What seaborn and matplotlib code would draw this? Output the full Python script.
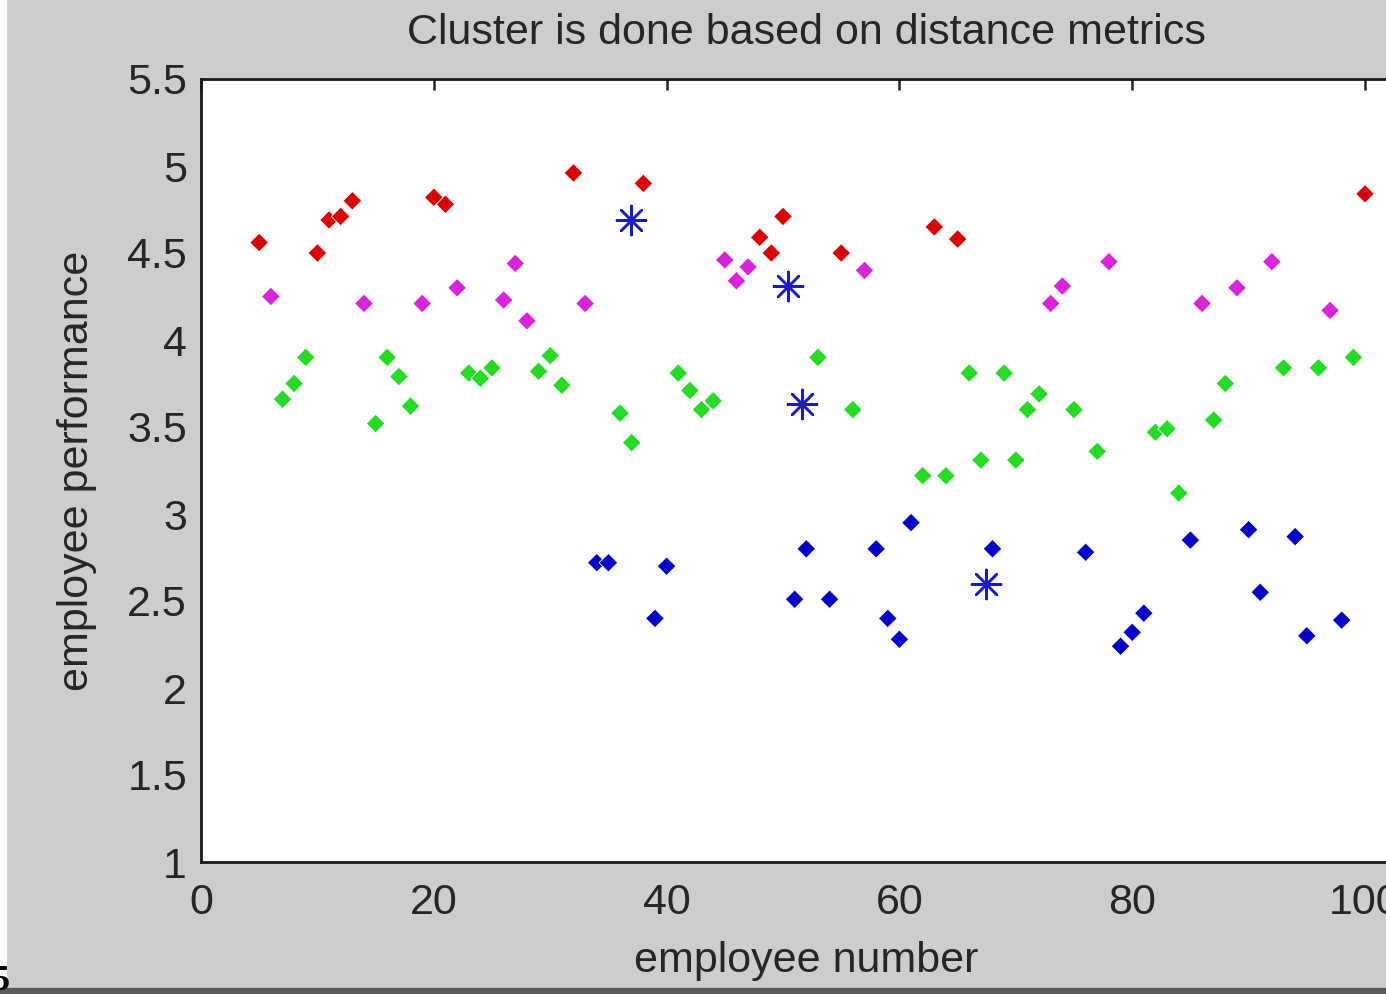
import matplotlib
matplotlib.use("Agg")
import matplotlib.pyplot as plt
import seaborn as sns
import pandas as pd
from matplotlib.patches import Rectangle

# ---- data ----
red_x = [5, 10, 11, 12, 13, 20, 21, 32, 38, 48, 49, 50, 55, 63, 65, 100]
red_y = [4.56, 4.50, 4.69, 4.71, 4.80, 4.82, 4.78, 4.96, 4.90, 4.59, 4.50, 4.71, 4.50, 4.65, 4.58, 4.84]

magenta_x = [6, 14, 19, 22, 26, 27, 28, 33, 45, 46, 47, 57, 73, 74, 78, 86, 89, 92, 97]
magenta_y = [4.25, 4.21, 4.21, 4.30, 4.23, 4.44, 4.11, 4.21, 4.46, 4.34, 4.42, 4.40, 4.21, 4.31, 4.45, 4.21, 4.30, 4.45, 4.17]

green_x = [7, 8, 9, 15, 16, 17, 18, 23, 24, 25, 29, 30, 31, 36, 37, 41, 42, 43, 44, 53, 56, 62, 64, 66,
           67, 69, 70, 71, 72, 75, 77, 82, 83, 84, 87, 88, 93, 96, 99]
green_y = [3.66, 3.75, 3.90, 3.52, 3.90, 3.79, 3.62, 3.81, 3.78, 3.84, 3.82, 3.91, 3.74, 3.58, 3.41, 3.81,
           3.71, 3.60, 3.65, 3.90, 3.60, 3.22, 3.22, 3.81, 3.31, 3.81, 3.31, 3.60, 3.69, 3.60, 3.36, 3.47,
           3.49, 3.12, 3.54, 3.75, 3.84, 3.84, 3.90]

blue_x = [34, 35, 39, 40, 51, 52, 54, 58, 59, 60, 61, 68, 76, 79, 80, 81, 85, 90, 91, 94, 95, 98]
blue_y = [2.72, 2.72, 2.40, 2.70, 2.51, 2.80, 2.51, 2.80, 2.40, 2.28, 2.95, 2.80, 2.78, 2.24, 2.32,
          2.43, 2.85, 2.91, 2.55, 2.87, 2.30, 2.39]

centroid_x = [36.9, 50.4, 51.6, 67.4]
centroid_y = [4.69, 4.31, 3.63, 2.60]

x_ticks = [0, 20, 40, 60, 80, 100]
y_ticks = [1, 1.5, 2, 2.5, 3, 3.5, 4, 4.5, 5, 5.5]
y_tick_labels = ["1", "1.5", "2", "2.5", "3", "3.5", "4", "4.5", "5", "5.5"]

cluster_names = ["c1", "c2", "c3", "c4"]
palette = {"c1": "#dd0000", "c2": "#dd22dd", "c3": "#22dd22", "c4": "#0000cc"}

df = pd.DataFrame({
    "x": red_x + magenta_x + green_x + blue_x,
    "y": red_y + magenta_y + green_y + blue_y,
    "cluster": ["c1"] * len(red_x) + ["c2"] * len(magenta_x) + ["c3"] * len(green_x) + ["c4"] * len(blue_x),
})
cdf = pd.DataFrame({"x": centroid_x, "y": centroid_y})

sns.set_style("white")
plt.rcParams["font.family"] = ["Liberation Sans", "DejaVu Sans"]
txt = "#262626"
FS = 31

fig = plt.figure(figsize=(13.86, 9.94), dpi=100, facecolor="#cdcdcd")
ax = fig.add_axes([201 / 1386, 132 / 994, 104 * 11.64 / 1386, 783 / 994])
ax.set_facecolor("white")

sns.scatterplot(data=df, x="x", y="y", hue="cluster", hue_order=cluster_names, palette=palette,
                marker="D", s=90, linewidth=0.6, ax=ax, legend=False)
sns.scatterplot(data=cdf, x="x", y="y", marker=(8, 2, 0), s=440, color="#1a1acc",
                linewidth=1.8, ax=ax, legend=False)

ax.set_xlim(0, 104)
ax.set_ylim(1, 5.5)
ax.set_xticks(x_ticks)
ax.set_yticks(y_ticks)
ax.set_yticklabels(y_tick_labels)
ax.tick_params(direction="in", length=8, width=1.8, top=True, right=True,
               labelsize=FS, labelcolor=txt, color="#222222", pad=10)
ax.tick_params(axis="x", pad=15)
for sp in ax.spines.values():
    sp.set_linewidth(2.0)
    sp.set_color("#1a1a1a")

ax.set_title("Cluster is done based on distance metrics", fontsize=FS, color=txt, pad=25)
ax.set_xlabel("employee number", fontsize=FS, color=txt, labelpad=13)
ax.set_ylabel("employee performance", fontsize=FS, color=txt, labelpad=22)

# frame details of the screenshot
fig.add_artist(Rectangle((0, 0), 6 / 1386, 1, transform=fig.transFigure, color="white", zorder=0))
fig.add_artist(Rectangle((0, 0), 1, 6 / 994, transform=fig.transFigure, color="#5a5a5a", zorder=0))
fig.text(-0.006, 0.004, "5", fontsize=26, fontweight="bold", family="Liberation Serif", color="black")

fig.savefig("out.png", dpi=100, facecolor=fig.get_facecolor())
